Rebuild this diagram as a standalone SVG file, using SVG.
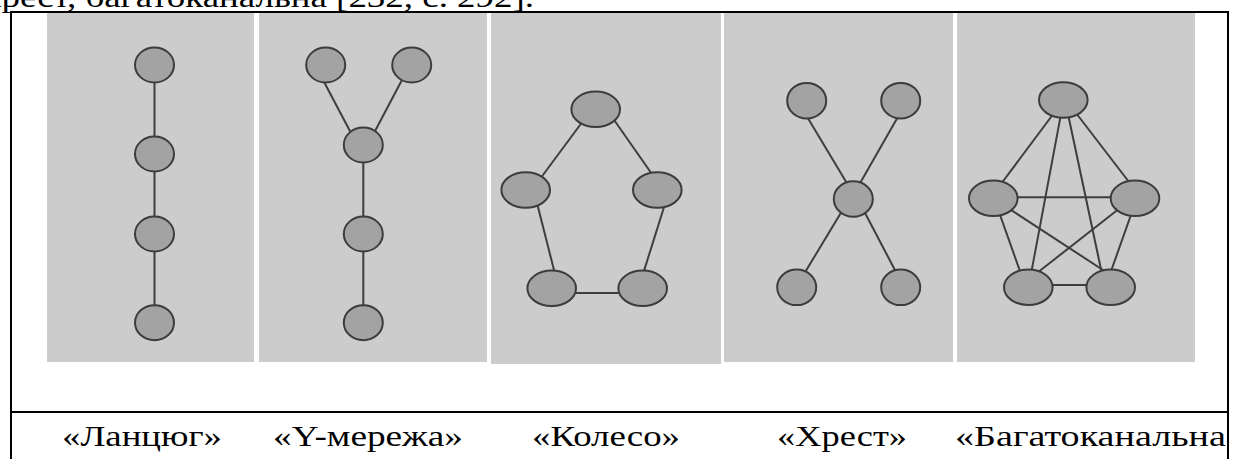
<svg xmlns="http://www.w3.org/2000/svg" width="1233" height="459" viewBox="0 0 1233 459">
  <style>
    .panel { fill: #cccccc; }
    .node { fill: #a3a3a3; stroke: #3c3c3c; stroke-width: 2; }
    .edge { stroke: #3e3e3e; stroke-width: 2; fill: none; }
    .rule { stroke: #000000; stroke-width: 2; fill: none; }
    .txt { font-family: "Liberation Serif", "Times New Roman", serif; font-size: 29px; fill: #000000; }
  </style>
  <defs>
    <clipPath id="cellClip">
      <rect x="12" y="413" width="1215" height="46"/>
    </clipPath>
  </defs>

  <rect x="0" y="0" width="1233" height="459" fill="#ffffff"/>

  <!-- tail of the preceding paragraph line -->
  <text class="txt" x="-17" y="7" textLength="551" lengthAdjust="spacingAndGlyphs">хрест, багатоканальна [232, с. 292].</text>

  <!-- background panels -->
  <g id="panels">
    <rect class="panel" x="47" y="13" width="207" height="349"/>
    <rect class="panel" x="259" y="13" width="228" height="349"/>
    <rect class="panel" x="491" y="13" width="230" height="351"/>
    <rect class="panel" x="724" y="13" width="229" height="349"/>
    <rect class="panel" x="957" y="13" width="238" height="349"/>
  </g>

  <!-- connectors -->
  <g id="connectors">
    <!-- chain -->
    <line class="edge" x1="154.5" y1="65" x2="154.5" y2="323"/>
    <!-- Y network -->
    <line class="edge" x1="323" y1="80" x2="351" y2="133"/>
    <line class="edge" x1="403" y1="78" x2="374" y2="133"/>
    <line class="edge" x1="363.3" y1="145" x2="363.3" y2="323"/>
    <!-- wheel -->
    <line class="edge" x1="583" y1="121" x2="540" y2="179"/>
    <line class="edge" x1="612" y1="117" x2="654" y2="177"/>
    <line class="edge" x1="537" y1="203" x2="555" y2="274"/>
    <line class="edge" x1="665" y1="204" x2="643" y2="274"/>
    <line class="edge" x1="572" y1="293" x2="623" y2="293"/>
    <!-- cross -->
    <line class="edge" x1="806" y1="115" x2="848" y2="185"/>
    <line class="edge" x1="899" y1="115" x2="859" y2="185"/>
    <line class="edge" x1="842" y1="211" x2="804" y2="274"/>
    <line class="edge" x1="864" y1="211" x2="897" y2="274"/>
    <!-- all-channel -->
    <line class="edge" x1="1054" y1="113" x2="1001" y2="184"/>
    <line class="edge" x1="1076" y1="113" x2="1129" y2="182"/>
    <line class="edge" x1="1061" y1="114" x2="1031" y2="274"/>
    <line class="edge" x1="1068" y1="114" x2="1102" y2="274"/>
    <line class="edge" x1="1014" y1="197.3" x2="1115" y2="197.3"/>
    <line class="edge" x1="999" y1="212" x2="1021" y2="274"/>
    <line class="edge" x1="1132" y1="212" x2="1110" y2="274"/>
    <line class="edge" x1="1008" y1="208" x2="1106" y2="272"/>
    <line class="edge" x1="1120" y1="208" x2="1037" y2="273"/>
    <line class="edge" x1="1050" y1="285" x2="1090" y2="285"/>
  </g>

  <!-- chain nodes -->
  <g id="chain">
    <ellipse id="chain-1" class="node" cx="154.5" cy="65" rx="19.5" ry="17.5"/>
    <ellipse id="chain-2" class="node" cx="154.5" cy="154" rx="19.5" ry="17.5"/>
    <ellipse id="chain-3" class="node" cx="154.5" cy="234" rx="19.5" ry="17.5"/>
    <ellipse id="chain-4" class="node" cx="154.5" cy="322.7" rx="19.5" ry="17.5"/>
  </g>

  <!-- Y network nodes -->
  <g id="y-net">
    <ellipse id="y-1" class="node" cx="325.7" cy="65" rx="19.5" ry="17.5"/>
    <ellipse id="y-2" class="node" cx="411.7" cy="65" rx="19.5" ry="17.5"/>
    <ellipse id="y-3" class="node" cx="363.3" cy="145" rx="19.5" ry="17.5"/>
    <ellipse id="y-4" class="node" cx="363.3" cy="234" rx="19.5" ry="17.5"/>
    <ellipse id="y-5" class="node" cx="363.3" cy="322.7" rx="19.5" ry="17.5"/>
  </g>

  <!-- wheel nodes -->
  <g id="wheel">
    <ellipse id="wheel-1" class="node" cx="595.7" cy="109.3" rx="24.3" ry="17.8"/>
    <ellipse id="wheel-2" class="node" cx="525.7" cy="190" rx="24.3" ry="17.8"/>
    <ellipse id="wheel-3" class="node" cx="657.3" cy="190" rx="24.3" ry="17.8"/>
    <ellipse id="wheel-4" class="node" cx="551.7" cy="288.3" rx="24.3" ry="17.8"/>
    <ellipse id="wheel-5" class="node" cx="642.7" cy="288.3" rx="24.3" ry="17.8"/>
  </g>

  <!-- cross nodes -->
  <g id="cross">
    <ellipse id="cross-1" class="node" cx="806.7" cy="100.7" rx="19.5" ry="17.8"/>
    <ellipse id="cross-2" class="node" cx="900.7" cy="100.7" rx="19.5" ry="17.8"/>
    <ellipse id="cross-3" class="node" cx="853.3" cy="199" rx="19.5" ry="17.8"/>
    <ellipse id="cross-4" class="node" cx="796.7" cy="287.3" rx="19.5" ry="17.8"/>
    <ellipse id="cross-5" class="node" cx="900.7" cy="287.3" rx="19.5" ry="17.8"/>
  </g>

  <!-- all-channel nodes -->
  <g id="all-channel">
    <ellipse id="all-1" class="node" cx="1063.3" cy="100" rx="24.3" ry="17.8"/>
    <ellipse id="all-2" class="node" cx="993.3" cy="198.3" rx="24.3" ry="17.8"/>
    <ellipse id="all-3" class="node" cx="1135" cy="198.3" rx="24.3" ry="17.8"/>
    <ellipse id="all-4" class="node" cx="1028.3" cy="287.3" rx="24.3" ry="17.8"/>
    <ellipse id="all-5" class="node" cx="1110.7" cy="287.3" rx="24.3" ry="17.8"/>
  </g>

  <!-- captions (wide serif lettering, last one runs into the cell edge) -->
  <g id="captions" clip-path="url(#cellClip)">
    <text class="txt" x="62" y="446" textLength="160" lengthAdjust="spacingAndGlyphs">«Ланцюг»</text>
    <text class="txt" x="273" y="446" textLength="190" lengthAdjust="spacingAndGlyphs">«Y-мережа»</text>
    <text class="txt" x="532" y="446" textLength="148" lengthAdjust="spacingAndGlyphs">«Колесо»</text>
    <text class="txt" x="777" y="446" textLength="130" lengthAdjust="spacingAndGlyphs">«Хрест»</text>
    <text class="txt" x="955" y="446" textLength="290" lengthAdjust="spacingAndGlyphs">«Багатоканальна»</text>
  </g>

  <!-- table rules -->
  <g id="table">
    <line class="rule" x1="10" y1="12" x2="1229" y2="12"/>
    <line class="rule" x1="11" y1="12" x2="11" y2="459"/>
    <line class="rule" x1="1228" y1="12" x2="1228" y2="459"/>
    <line class="rule" x1="10" y1="412" x2="1229" y2="412"/>
  </g>
</svg>
